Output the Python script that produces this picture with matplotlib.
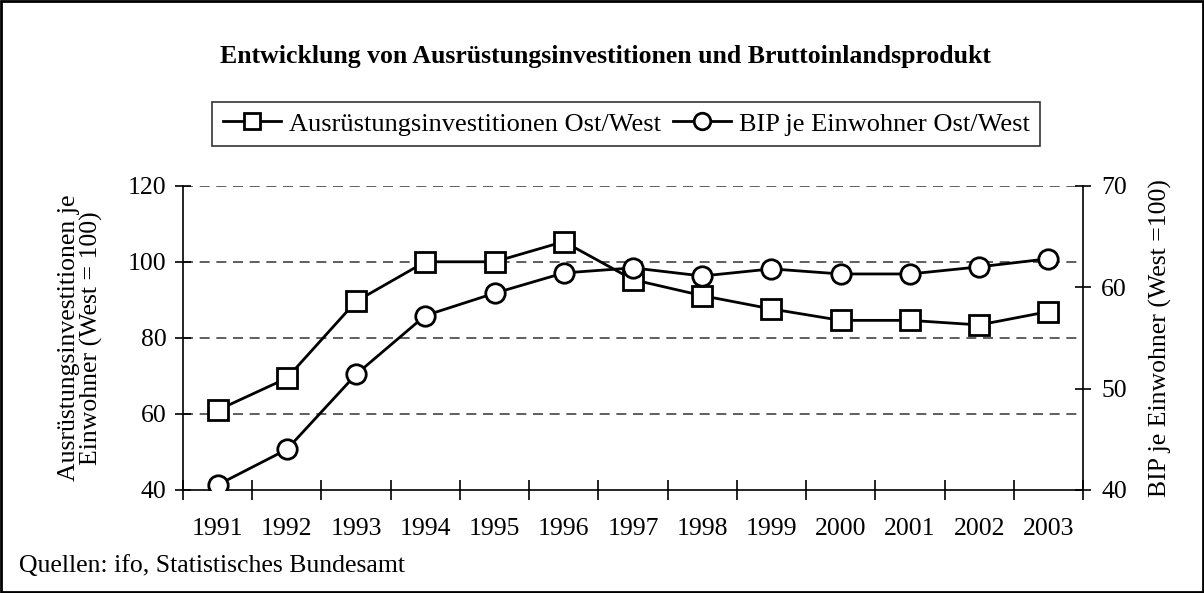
import matplotlib
matplotlib.use("Agg")
import matplotlib.pyplot as plt
from matplotlib.patches import Rectangle
import numpy as np

# data
years = ['1991', '1992', '1993', '1994', '1995', '1996', '1997',
         '1998', '1999', '2000', '2001', '2002', '2003']
ausruestung = [61.0, 69.4, 89.6, 100.0, 100.0, 105.3, 95.3,
               91.1, 87.6, 84.6, 84.6, 83.4, 86.9]
bip = [40.5, 44.0, 51.4, 57.2, 59.4, 61.4, 61.9,
       61.1, 61.8, 61.3, 61.3, 62.0, 62.8]

plt.rcParams['font.family'] = ['Liberation Serif', 'DejaVu Serif']
fs = 18.5

fig = plt.figure(figsize=(12.04, 5.93), dpi=100)
ax = fig.add_axes([0.152, 0.1737, 0.7475, 0.5131])
ax2 = ax.twinx()

x = np.arange(len(years))
mstyle = dict(color='black', lw=2, markersize=14, markerfacecolor='white',
              markeredgecolor='black', markeredgewidth=2)
l1, = ax.plot(x, ausruestung, marker='s', label='Ausrüstungsinvestitionen Ost/West', zorder=3, **mstyle)
l2, = ax2.plot(x, bip, marker='o', label='BIP je Einwohner Ost/West', zorder=3, **mstyle)

# left axis
ax.set_xlim(-0.5, len(years) - 0.5)
ax.set_ylim(40, 120)
ax.set_yticks([40, 60, 80, 100, 120])
for v in [60, 80, 100, 120]:
    ax.axhline(v, color='#444444', lw=1.2, ls=(0, (6, 4)), zorder=1)
ax.set_ylabel('Ausrüstungsinvestitionen je\nEinwohner (West = 100)', fontsize=fs,
              labelpad=18, linespacing=1.0)

# right axis
ax2.set_ylim(40, 70)
ax2.set_yticks([40, 50, 60, 70])
ax2.set_ylabel('BIP je Einwohner (West =100)', fontsize=fs, labelpad=16)

# category axis: labels centred, ticks between categories
ax.set_xticks(x)
ax.set_xticklabels(years)
ax.set_xticks(np.arange(-0.5, len(years)), minor=True)
ax.tick_params(axis='x', which='major', length=0, labelsize=fs, pad=20)
ax.tick_params(axis='x', which='minor', direction='inout', length=14, width=1.2)
ax.tick_params(axis='y', direction='inout', length=12, width=1.2, labelsize=fs, pad=6)
ax2.tick_params(axis='y', direction='inout', length=12, width=1.2, labelsize=fs, pad=7)

for a in (ax, ax2):
    a.spines['top'].set_visible(False)
    for s in ['left', 'right', 'bottom']:
        a.spines[s].set_linewidth(1.2)
ax.spines['right'].set_visible(False)
ax2.spines['left'].set_visible(False)
ax2.spines['bottom'].set_visible(False)

fig.text(0.503, 0.905, 'Entwicklung von Ausrüstungsinvestitionen und Bruttoinlandsprodukt',
         ha='center', va='center', fontsize=18.5, fontweight='bold')

leg = fig.legend(handles=[l1, l2], loc='center', bbox_to_anchor=(0.52, 0.791), ncol=2,
                 fontsize=19, frameon=True, fancybox=False, handlelength=2.2,
                 handletextpad=0.3, columnspacing=0.45, borderpad=0.4,
                 borderaxespad=0, markerscale=0.85)
leg.get_frame().set_edgecolor('black')
leg.get_frame().set_linewidth(1.2)

fig.text(0.016, 0.045, 'Quellen: ifo, Statistisches Bundesamt', ha='left', va='center', fontsize=fs)

fig.patches.append(Rectangle((0.001, 0.002), 0.998, 0.996, transform=fig.transFigure,
                             fill=False, edgecolor='black', linewidth=2))

fig.savefig('out.png', dpi=100)
